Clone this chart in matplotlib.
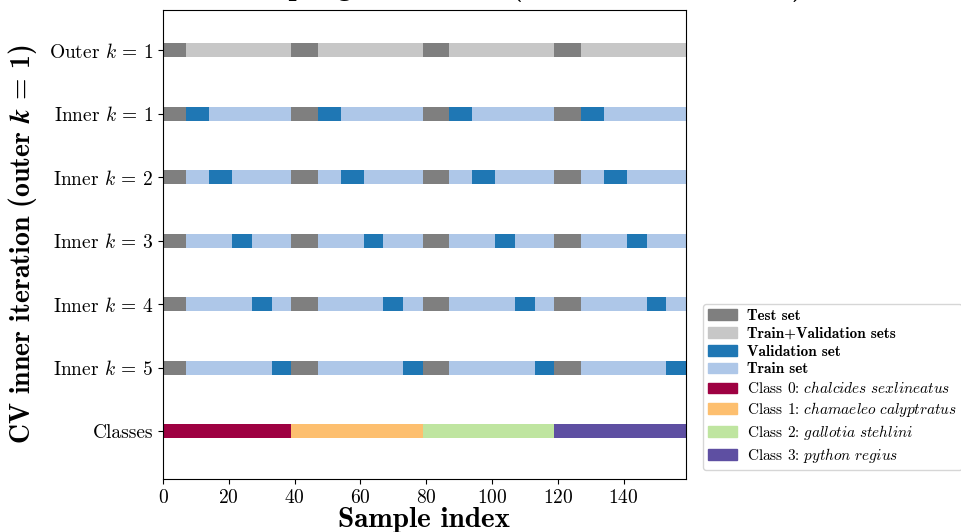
import matplotlib
matplotlib.use("Agg")
import matplotlib.pyplot as plt
from matplotlib.patches import Patch
import numpy as np

plt.rcParams['font.family'] = 'cmr10'
plt.rcParams['mathtext.fontset'] = 'cm'
plt.rcParams['axes.formatter.use_mathtext'] = True

# data
class_names = ['chalcides sexlineatus', 'chamaeleo calyptratus',
               'gallotia stehlini', 'python regius']
class_sizes = [40, 40, 40, 40]
n_test_per_class = 8
val_fold_sizes = [7, 7, 6, 6, 6]   # inner folds, per class
row_labels = ['Outer $k$ = 1', 'Inner $k$ = 1', 'Inner $k$ = 2', 'Inner $k$ = 3',
              'Inner $k$ = 4', 'Inner $k$ = 5', 'Classes']

c_test = '#7f7f7f'
c_trainval = '#c7c7c7'
c_val = '#1f77b4'
c_train = '#aec7e8'
class_colors = ['#9e0142', '#fdbf6f', '#bfe5a0', '#5e4fa2']

# build sample arrays
classes = np.repeat(np.arange(len(class_sizes)), class_sizes)
pos_in_class = np.concatenate([np.arange(s) for s in class_sizes])
n = len(classes)
idx = np.arange(n)
is_test = pos_in_class < n_test_per_class
fold_edges = n_test_per_class + np.concatenate([[0], np.cumsum(val_fold_sizes)])

rows = []
rows.append(np.where(is_test, c_test, c_trainval))
for k in range(len(val_fold_sizes)):
    in_val = (pos_in_class >= fold_edges[k]) & (pos_in_class < fold_edges[k + 1])
    rows.append(np.where(is_test, c_test, np.where(in_val, c_val, c_train)))
rows.append(np.array(class_colors)[classes])

fig = plt.figure(figsize=(9.62, 5.32), dpi=100)
ax = fig.add_axes([163 / 962, 53 / 532, 523 / 962, 469 / 532])

for r, cols in enumerate(rows):
    ax.barh(np.full(n, r), width=2, left=idx - 1, height=0.22,
            color=cols, linewidth=0)

ax.set_xlim(0, n - 1)
ax.set_ylim(len(rows) - 0.25, -0.63)
ax.set_yticks(range(len(rows)))
ax.set_yticklabels(row_labels)
ax.tick_params(labelsize=14)
ax.set_xlabel('Sample index', fontsize=21, fontfamily='cmb10', labelpad=0)
ax.set_ylabel(r'CV inner iteration (outer $\mathbfit{k}$ = 1)', fontsize=20,
              fontfamily='cmb10', labelpad=7)

# title sits mostly above the top edge, as in the source image
fig.text(0.463, 1.0085, 'Nested CV sampling illustration (outer and inner folds)',
         ha='center', va='baseline', fontsize=21, fontfamily='cmb10')

handles = [Patch(color=c_test), Patch(color=c_trainval), Patch(color=c_val),
           Patch(color=c_train)] + [Patch(color=c) for c in class_colors]
labels = ['Test set', 'Train+Validation sets', 'Validation set', 'Train set']
labels += [r'Class %d: $\mathit{%s}$' % (i, nm.replace(' ', r'\ '))
           for i, nm in enumerate(class_names)]
leg = fig.legend(handles, labels, loc='lower left',
                 bbox_to_anchor=(703 / 962, 62 / 532), fontsize=11,
                 handlelength=1.9, handletextpad=0.6, labelspacing=0.25,
                 borderpad=0.35, borderaxespad=0, edgecolor='#cccccc')
for t in leg.get_texts()[:4]:
    t.set_fontfamily('cmb10')

fig.savefig('out.png', dpi=100)
